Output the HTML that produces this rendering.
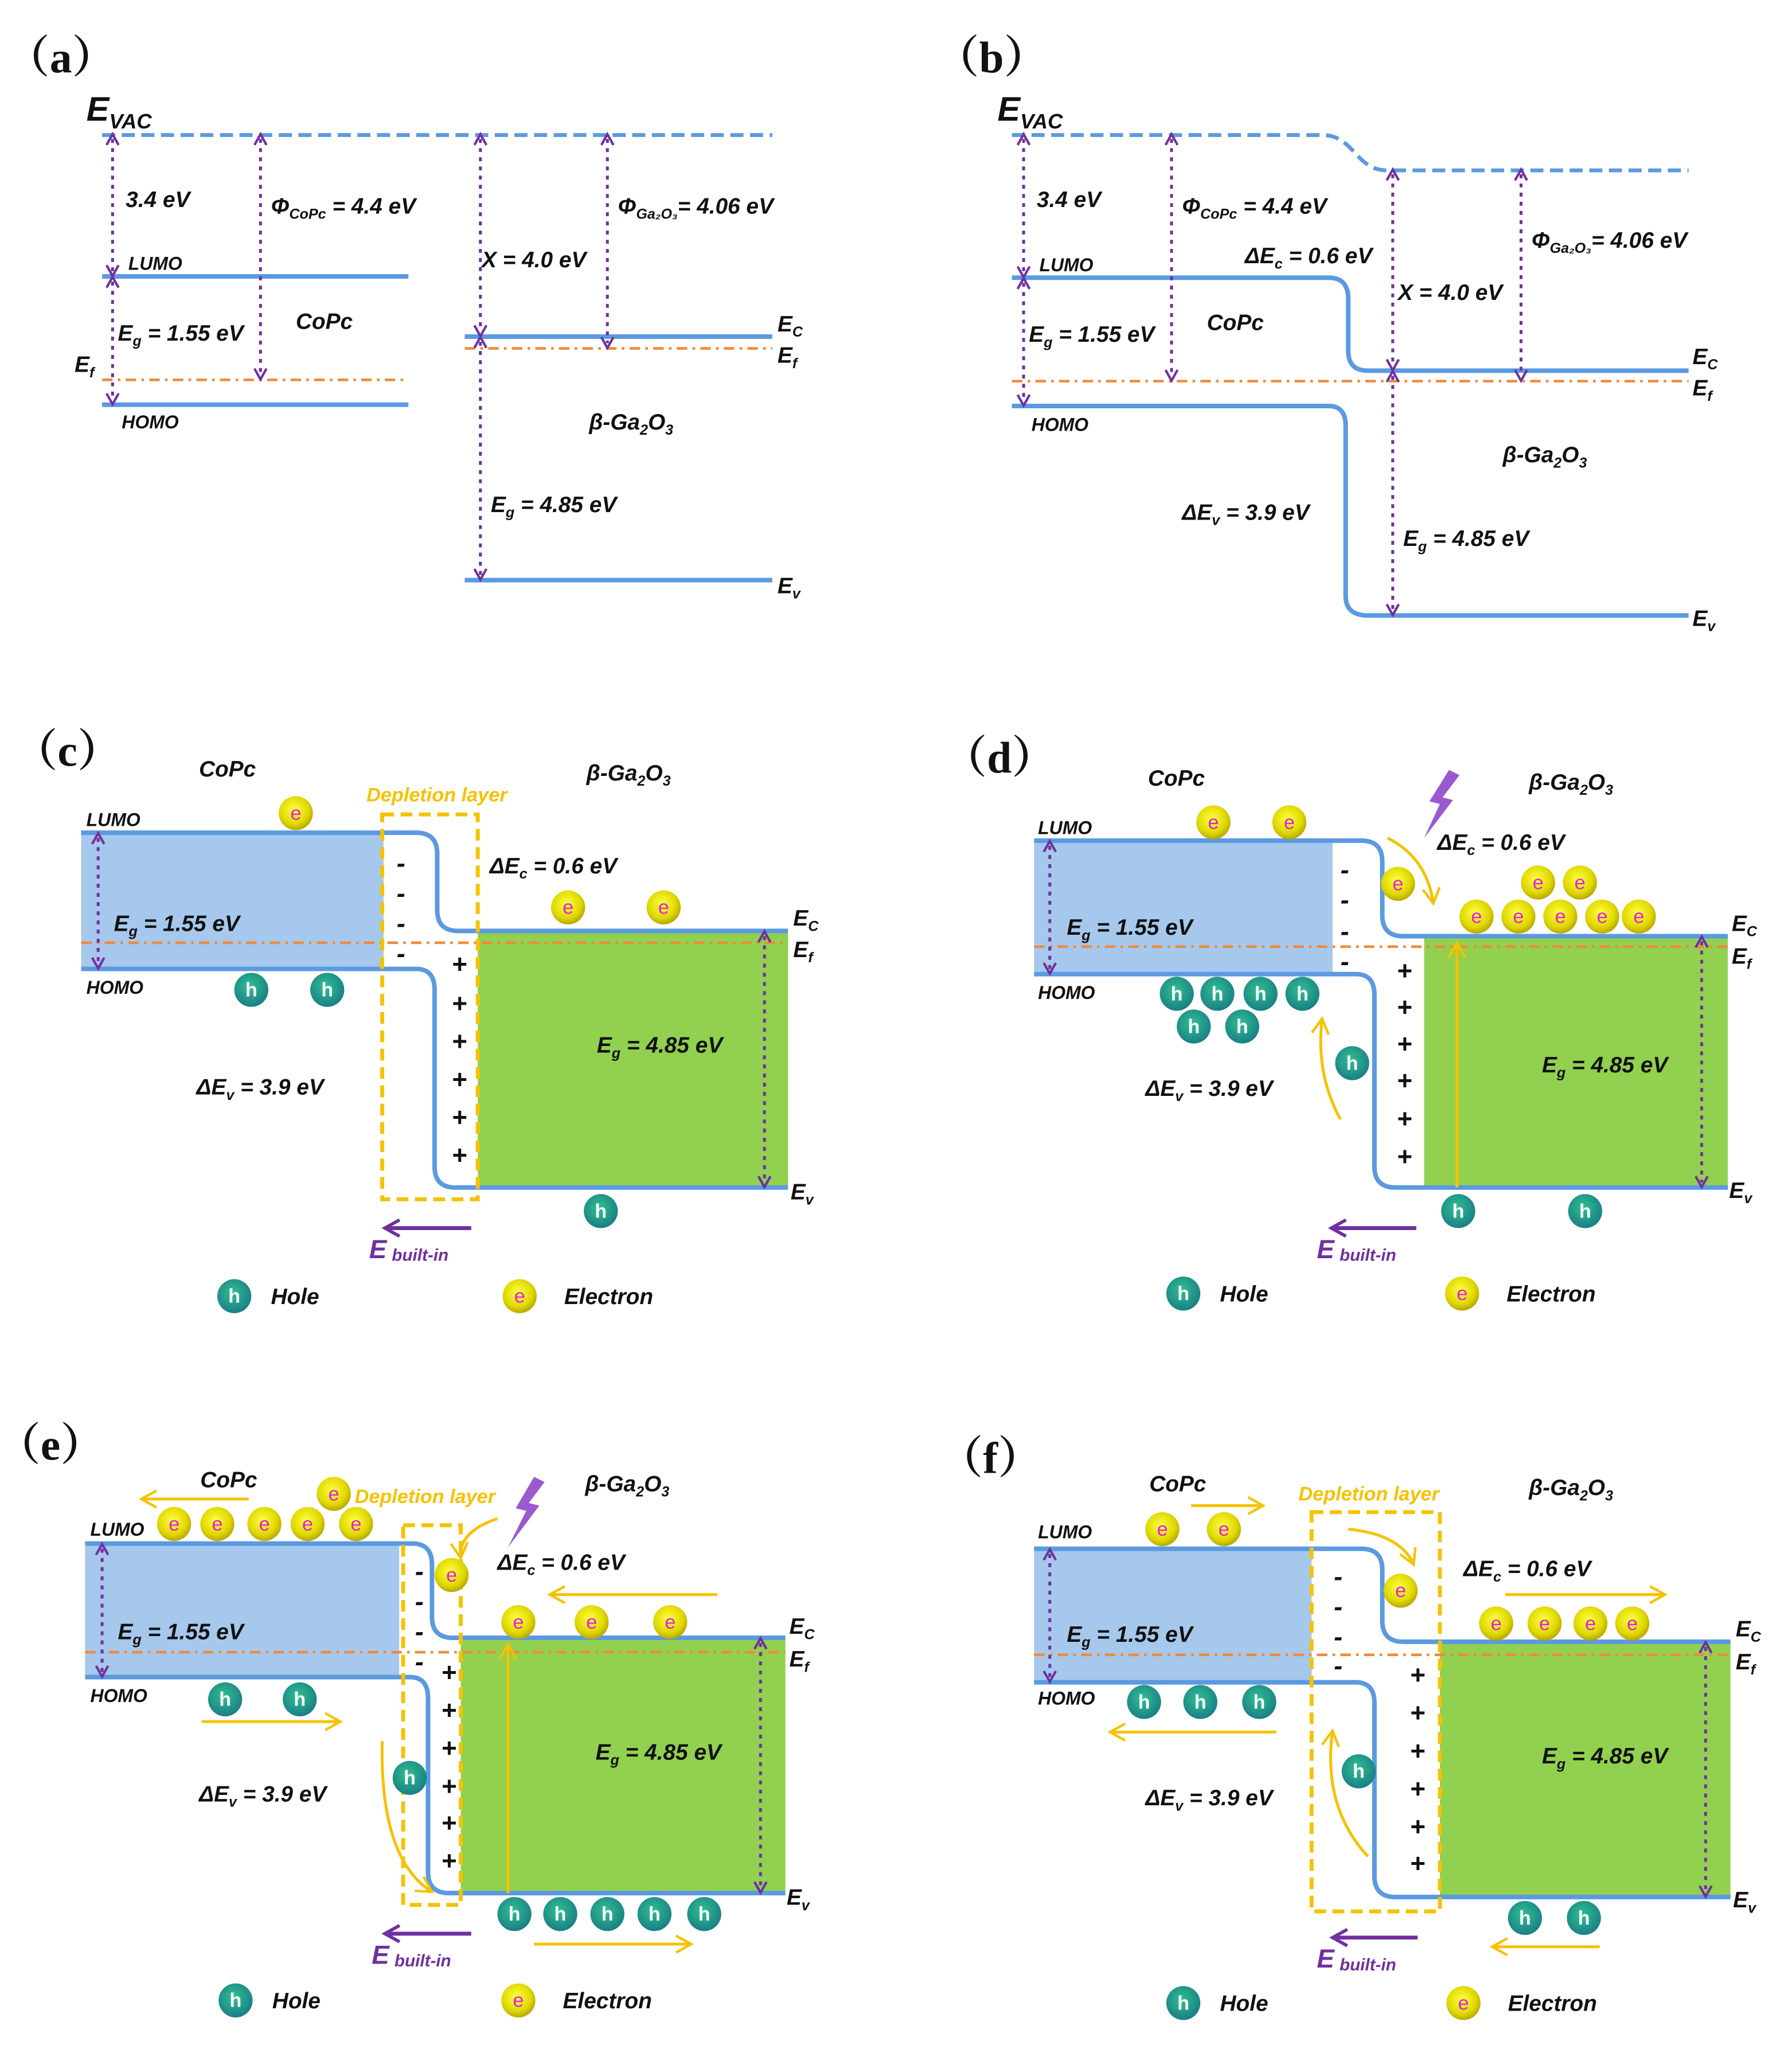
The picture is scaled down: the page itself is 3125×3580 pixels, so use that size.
<!DOCTYPE html>
<html><head><meta charset="utf-8"><style>
html,body{margin:0;padding:0;background:#fff}
svg{display:block}
.t{font-family:"Liberation Sans",sans-serif;font-style:italic;font-weight:bold;font-size:17px;fill:#111}
.s{font-size:11px}
.lb{font-family:"Liberation Serif","Noto Serif CJK SC",serif;font-weight:bold;font-size:34px;fill:#111}
.y{fill:#f5c200}
.p{fill:#7030a0}
.ep{font-family:"Liberation Sans",sans-serif;font-size:15px;fill:#e020e0;text-anchor:middle}
.hp{font-family:"Liberation Sans",sans-serif;font-size:15px;fill:#fff;text-anchor:middle;font-weight:bold}
.band{stroke:#5b9ae0;stroke-width:3.5;fill:none}
.dash{stroke:#5b9ae0;stroke-width:3;fill:none;stroke-dasharray:10 5}
.ef{stroke:#f08a3a;stroke-width:2;fill:none;stroke-dasharray:8 4 2 4}
.arr{stroke:#7030a0;stroke-width:2.2;fill:none;stroke-dasharray:3 4;marker-start:url(#ma);marker-end:url(#ma)}
.dep{stroke:#f5c200;stroke-width:3;fill:none;stroke-dasharray:9 5}
.ya{stroke:#f5c200;stroke-width:2.2;fill:none;marker-end:url(#my)}
.pa{stroke:#7030a0;stroke-width:3;fill:none;marker-end:url(#mp)}
.ec{fill:url(#ge)}
.hc{fill:url(#gh)}
</style></head><body>
<svg width="3125" height="3580" viewBox="0 0 1369 1568" xmlns="http://www.w3.org/2000/svg">
<defs>
<marker id="ma" viewBox="0 0 12 12" refX="6" refY="6" markerWidth="5" markerHeight="5" orient="auto-start-reverse"><path d="M1,1 L10,6 L1,11" fill="none" stroke="#7030a0" stroke-width="2"/></marker>
<marker id="my" viewBox="0 0 12 12" refX="10" refY="6" markerWidth="7" markerHeight="7" orient="auto"><path d="M1,1 L10,6 L1,11" fill="none" stroke="#f5c200" stroke-width="1.5"/></marker>
<marker id="mp" viewBox="0 0 12 12" refX="10" refY="6" markerWidth="5" markerHeight="5" orient="auto"><path d="M1,1 L10,6 L1,11" fill="none" stroke="#7030a0" stroke-width="2"/></marker>
<radialGradient id="ge" cx="0.45" cy="0.4" r="0.6"><stop offset="0" stop-color="#ffff40"/><stop offset="0.7" stop-color="#e0d800"/><stop offset="1" stop-color="#b8a800"/></radialGradient>
<radialGradient id="gh" cx="0.45" cy="0.4" r="0.6"><stop offset="0" stop-color="#30c090"/><stop offset="1" stop-color="#1a7f86"/></radialGradient>
</defs>

<!-- ===== (a) ===== -->
<text class="lb" x="4" y="55">（a）</text>
<text class="t" x="66" y="92" style="font-size:26px">E<tspan class="s" style="font-size:16px" dy="6">VAC</tspan></text>
<line class="dash" x1="78" y1="103" x2="590" y2="103"/>
<line class="band" x1="78" y1="211" x2="312" y2="211"/>
<line class="band" x1="78" y1="309" x2="312" y2="309"/>
<line class="ef" x1="78" y1="290" x2="310" y2="290"/>
<line class="band" x1="355" y1="257" x2="590" y2="257"/>
<line class="ef" x1="355" y1="266" x2="590" y2="266"/>
<line class="band" x1="355" y1="443" x2="590" y2="443"/>
<line class="arr" x1="86" y1="106" x2="86" y2="207"/>
<line class="arr" x1="86" y1="215" x2="86" y2="305"/>
<line class="arr" x1="199" y1="106" x2="199" y2="286"/>
<line class="arr" x1="367" y1="106" x2="367" y2="253"/>
<line class="arr" x1="464" y1="106" x2="464" y2="262"/>
<line class="arr" x1="367" y1="261" x2="367" y2="439"/>
<text class="t" x="96" y="158">3.4 eV</text>
<text class="t" x="207" y="163">Φ<tspan class="s" dy="4">CoPc</tspan><tspan dy="-4"> = 4.4 eV</tspan></text>
<text class="t" x="98" y="206" style="font-size:14px">LUMO</text>
<text class="t" x="90" y="260">E<tspan class="s" dy="4">g</tspan><tspan dy="-4"> = 1.55 eV</tspan></text>
<text class="t" x="226" y="251">CoPc</text>
<text class="t" x="57" y="284">E<tspan class="s" dy="4">f</tspan></text>
<text class="t" x="93" y="327" style="font-size:14px">HOMO</text>
<text class="t" x="368" y="204">Χ = 4.0 eV</text>
<text class="t" x="472" y="163">Φ<tspan class="s" dy="4">Ga₂O₃</tspan><tspan dy="-4">= 4.06 eV</tspan></text>
<text class="t" x="594" y="253">E<tspan class="s" dy="4">C</tspan></text>
<text class="t" x="594" y="277">E<tspan class="s" dy="4">f</tspan></text>
<text class="t" x="594" y="453">E<tspan class="s" dy="4">v</tspan></text>
<text class="t" x="450" y="328">β-Ga<tspan class="s" dy="4">2</tspan><tspan dy="-4">O</tspan><tspan class="s" dy="4">3</tspan></text>
<text class="t" x="375" y="391">E<tspan class="s" dy="4">g</tspan><tspan dy="-4"> = 4.85 eV</tspan></text>

<!-- ===== (b) ===== -->
<text class="lb" x="714" y="55">（b）</text>
<text class="t" x="762" y="92" style="font-size:26px">E<tspan class="s" style="font-size:16px" dy="6">VAC</tspan></text>
<path class="dash" d="M773,103 H1010 C1035,103 1035,130 1060,130 H1290"/>
<path class="band" d="M773,212 H1015 Q1030,212 1030,228 V268 Q1030,283 1045,283 H1290"/>
<path class="band" d="M773,310 H1015 Q1028,310 1028,325 V455 Q1028,470 1045,470 H1290"/>
<line class="ef" x1="773" y1="291" x2="1290" y2="291"/>
<line class="arr" x1="782" y1="106" x2="782" y2="208"/>
<line class="arr" x1="782" y1="216" x2="782" y2="306"/>
<line class="arr" x1="895" y1="106" x2="895" y2="287"/>
<line class="arr" x1="1064" y1="133" x2="1064" y2="279"/>
<line class="arr" x1="1162" y1="133" x2="1162" y2="287"/>
<line class="arr" x1="1064" y1="287" x2="1064" y2="466"/>
<text class="t" x="792" y="158">3.4 eV</text>
<text class="t" x="903" y="163">Φ<tspan class="s" dy="4">CoPc</tspan><tspan dy="-4"> = 4.4 eV</tspan></text>
<text class="t" x="794" y="207" style="font-size:14px">LUMO</text>
<text class="t" x="951" y="201">ΔE<tspan class="s" dy="4">c</tspan><tspan dy="-4"> = 0.6 eV</tspan></text>
<text class="t" x="786" y="261">E<tspan class="s" dy="4">g</tspan><tspan dy="-4"> = 1.55 eV</tspan></text>
<text class="t" x="922" y="252">CoPc</text>
<text class="t" x="788" y="329" style="font-size:14px">HOMO</text>
<text class="t" x="1068" y="229">Χ = 4.0 eV</text>
<text class="t" x="1170" y="189">Φ<tspan class="s" dy="4">Ga₂O₃</tspan><tspan dy="-4">= 4.06 eV</tspan></text>
<text class="t" x="1148" y="353">β-Ga<tspan class="s" dy="4">2</tspan><tspan dy="-4">O</tspan><tspan class="s" dy="4">3</tspan></text>
<text class="t" x="903" y="397">ΔE<tspan class="s" dy="4">v</tspan><tspan dy="-4"> = 3.9 eV</tspan></text>
<text class="t" x="1072" y="417">E<tspan class="s" dy="4">g</tspan><tspan dy="-4"> = 4.85 eV</tspan></text>
<text class="t" x="1293" y="278">E<tspan class="s" dy="4">C</tspan></text>
<text class="t" x="1293" y="302">E<tspan class="s" dy="4">f</tspan></text>
<text class="t" x="1293" y="478">E<tspan class="s" dy="4">v</tspan></text>

<!-- ===== (c) ===== -->
<text class="lb" x="10" y="585">（c）</text>
<rect x="62" y="636" width="231" height="104" fill="#a6c8ec"/>
<rect x="365" y="711" width="237" height="196" fill="#92d050"/>
<path class="band" d="M62,636 H318 Q334,636 334,652 V695 Q334,711 350,711 H602"/>
<path class="band" d="M62,740 H318 Q332,740 332,756 V891 Q332,907 348,907 H602"/>
<line class="ef" x1="62" y1="720" x2="602" y2="720"/>
<rect class="dep" x="292" y="622" width="73" height="294"/>
<g class="t" style="font-size:20px"><text x="303" y="666">-</text><text x="303" y="689">-</text><text x="303" y="712">-</text><text x="303" y="735">-</text>
<text x="345" y="743">+</text><text x="345" y="773">+</text><text x="345" y="802">+</text><text x="345" y="831">+</text><text x="345" y="860">+</text><text x="345" y="889">+</text></g>
<line class="arr" x1="75" y1="640" x2="75" y2="736"/>
<line class="arr" x1="584" y1="715" x2="584" y2="903"/>
<text class="t" x="87" y="711">E<tspan class="s" dy="4">g</tspan><tspan dy="-4"> = 1.55 eV</tspan></text>
<text class="t" x="456" y="804">E<tspan class="s" dy="4">g</tspan><tspan dy="-4"> = 4.85 eV</tspan></text>
<text class="t" x="374" y="667">ΔE<tspan class="s" dy="4">c</tspan><tspan dy="-4"> = 0.6 eV</tspan></text>
<text class="t" x="150" y="836">ΔE<tspan class="s" dy="4">v</tspan><tspan dy="-4"> = 3.9 eV</tspan></text>
<text class="t" x="66" y="631" style="font-size:14px">LUMO</text>
<text class="t" x="66" y="759" style="font-size:14px">HOMO</text>
<text class="t" x="152" y="593">CoPc</text>
<text class="t" x="448" y="596">β-Ga<tspan class="s" dy="4">2</tspan><tspan dy="-4">O</tspan><tspan class="s" dy="4">3</tspan></text>
<text class="t y" x="280" y="612" style="font-size:15px">Depletion layer</text>
<text class="t" x="606" y="707">E<tspan class="s" dy="4">C</tspan></text>
<text class="t" x="606" y="731">E<tspan class="s" dy="4">f</tspan></text>
<text class="t" x="604" y="916">E<tspan class="s" dy="4">v</tspan></text>
<g><circle class="ec" cx="226" cy="621" r="13"/><text class="ep" x="226" y="626">e</text>
<circle class="ec" cx="434" cy="693" r="13"/><text class="ep" x="434" y="698">e</text>
<circle class="ec" cx="507" cy="693" r="13"/><text class="ep" x="507" y="698">e</text>
<circle class="hc" cx="192" cy="756" r="13"/><text class="hp" x="192" y="761">h</text>
<circle class="hc" cx="250" cy="756" r="13"/><text class="hp" x="250" y="761">h</text>
<circle class="hc" cx="459" cy="925" r="13"/><text class="hp" x="459" y="930">h</text></g>
<line class="pa" x1="360" y1="938" x2="294" y2="938"/>
<text class="t p" x="282" y="961" style="font-size:20px">E<tspan class="s" style="font-size:13px" dx="4" dy="2">built-in</tspan></text>
<circle class="hc" cx="179" cy="990" r="13"/><text class="hp" x="179" y="995">h</text><text class="t" x="207" y="996">Hole</text>
<circle class="ec" cx="397" cy="990" r="13"/><text class="ep" x="397" y="995">e</text><text class="t" x="431" y="996">Electron</text>

<!-- ===== (d) ===== -->
<text class="lb" x="720" y="590">（d）</text>
<rect x="790" y="642" width="228" height="102" fill="#a6c8ec"/>
<rect x="1088" y="715" width="232" height="192" fill="#92d050"/>
<path class="band" d="M790,642 H1040 Q1056,642 1056,658 V699 Q1056,715 1072,715 H1320"/>
<path class="band" d="M790,744 H1036 Q1050,744 1050,760 V891 Q1050,907 1066,907 H1320"/>
<line class="ef" x1="790" y1="723" x2="1320" y2="723"/>
<g class="t" style="font-size:20px"><text x="1024" y="671">-</text><text x="1024" y="694">-</text><text x="1024" y="718">-</text><text x="1024" y="741">-</text>
<text x="1067" y="748">+</text><text x="1067" y="776">+</text><text x="1067" y="804">+</text><text x="1067" y="832">+</text><text x="1067" y="861">+</text><text x="1067" y="890">+</text></g>
<line class="arr" x1="802" y1="646" x2="802" y2="740"/>
<line class="arr" x1="1300" y1="719" x2="1300" y2="903"/>
<path d="M1107,588 L1092,612 L1100,614 L1088,640 L1110,611 L1102,609 L1115,592 Z" fill="#9b59d0"/>
<path class="ya" d="M1060,640 Q1090,655 1095,690"/>
<line class="ya" x1="1113" y1="907" x2="1113" y2="720"/>
<path class="ya" d="M1024,855 Q1005,820 1010,778"/>
<text class="t" x="815" y="714">E<tspan class="s" dy="4">g</tspan><tspan dy="-4"> = 1.55 eV</tspan></text>
<text class="t" x="1178" y="819">E<tspan class="s" dy="4">g</tspan><tspan dy="-4"> = 4.85 eV</tspan></text>
<text class="t" x="1098" y="649">ΔE<tspan class="s" dy="4">c</tspan><tspan dy="-4"> = 0.6 eV</tspan></text>
<text class="t" x="875" y="837">ΔE<tspan class="s" dy="4">v</tspan><tspan dy="-4"> = 3.9 eV</tspan></text>
<text class="t" x="793" y="637" style="font-size:14px">LUMO</text>
<text class="t" x="793" y="763" style="font-size:14px">HOMO</text>
<text class="t" x="877" y="600">CoPc</text>
<text class="t" x="1168" y="603">β-Ga<tspan class="s" dy="4">2</tspan><tspan dy="-4">O</tspan><tspan class="s" dy="4">3</tspan></text>
<text class="t" x="1323" y="711">E<tspan class="s" dy="4">C</tspan></text>
<text class="t" x="1323" y="736">E<tspan class="s" dy="4">f</tspan></text>
<text class="t" x="1321" y="915">E<tspan class="s" dy="4">v</tspan></text>
<g><circle class="ec" cx="927" cy="628" r="13"/><text class="ep" x="927" y="633">e</text>
<circle class="ec" cx="985" cy="628" r="13"/><text class="ep" x="985" y="633">e</text>
<circle class="ec" cx="1068" cy="675" r="13"/><text class="ep" x="1068" y="680">e</text>
<circle class="ec" cx="1175" cy="674" r="13"/><text class="ep" x="1175" y="679">e</text>
<circle class="ec" cx="1207" cy="674" r="13"/><text class="ep" x="1207" y="679">e</text>
<circle class="ec" cx="1128" cy="700" r="13"/><text class="ep" x="1128" y="705">e</text>
<circle class="ec" cx="1160" cy="700" r="13"/><text class="ep" x="1160" y="705">e</text>
<circle class="ec" cx="1192" cy="700" r="13"/><text class="ep" x="1192" y="705">e</text>
<circle class="ec" cx="1224" cy="700" r="13"/><text class="ep" x="1224" y="705">e</text>
<circle class="ec" cx="1252" cy="700" r="13"/><text class="ep" x="1252" y="705">e</text>
<circle class="hc" cx="899" cy="759" r="13"/><text class="hp" x="899" y="764">h</text>
<circle class="hc" cx="930" cy="759" r="13"/><text class="hp" x="930" y="764">h</text>
<circle class="hc" cx="963" cy="759" r="13"/><text class="hp" x="963" y="764">h</text>
<circle class="hc" cx="995" cy="759" r="13"/><text class="hp" x="995" y="764">h</text>
<circle class="hc" cx="912" cy="784" r="13"/><text class="hp" x="912" y="789">h</text>
<circle class="hc" cx="949" cy="784" r="13"/><text class="hp" x="949" y="789">h</text>
<circle class="hc" cx="1033" cy="812" r="13"/><text class="hp" x="1033" y="817">h</text>
<circle class="hc" cx="1114" cy="925" r="13"/><text class="hp" x="1114" y="930">h</text>
<circle class="hc" cx="1211" cy="925" r="13"/><text class="hp" x="1211" y="930">h</text></g>
<line class="pa" x1="1082" y1="938" x2="1017" y2="938"/>
<text class="t p" x="1006" y="961" style="font-size:20px">E<tspan class="s" style="font-size:13px" dx="4" dy="2">built-in</tspan></text>
<circle class="hc" cx="904" cy="988" r="13"/><text class="hp" x="904" y="993">h</text><text class="t" x="932" y="994">Hole</text>
<circle class="ec" cx="1117" cy="988" r="13"/><text class="ep" x="1117" y="993">e</text><text class="t" x="1151" y="994">Electron</text>

<!-- ===== (e) ===== -->
<text class="lb" x="-3" y="1115">（e）</text>
<rect x="65" y="1179" width="240" height="102" fill="#a6c8ec"/>
<rect x="352" y="1251" width="248" height="195" fill="#92d050"/>
<path class="band" d="M65,1179 H315 Q330,1179 330,1195 V1235 Q330,1251 346,1251 H600"/>
<path class="band" d="M65,1281 H313 Q327,1281 327,1297 V1430 Q327,1446 343,1446 H600"/>
<line class="ef" x1="65" y1="1262" x2="600" y2="1262"/>
<rect class="dep" x="308" y="1165" width="44" height="290"/>
<g class="t" style="font-size:20px"><text x="317" y="1207">-</text><text x="317" y="1230">-</text><text x="317" y="1253">-</text><text x="317" y="1276">-</text>
<text x="337" y="1284">+</text><text x="337" y="1313">+</text><text x="337" y="1342">+</text><text x="337" y="1371">+</text><text x="337" y="1399">+</text><text x="337" y="1428">+</text></g>
<line class="arr" x1="78" y1="1183" x2="78" y2="1277"/>
<line class="arr" x1="581" y1="1255" x2="581" y2="1442"/>
<path d="M408,1128 L394,1152 L402,1154 L388,1182 L412,1150 L404,1148 L416,1132 Z" fill="#9b59d0"/>
<line class="ya" x1="190" y1="1145" x2="108" y2="1145"/>
<line class="ya" x1="154" y1="1315" x2="260" y2="1315"/>
<line class="ya" x1="548" y1="1218" x2="420" y2="1218"/>
<line class="ya" x1="408" y1="1485" x2="528" y2="1485"/>
<line class="ya" x1="388" y1="1446" x2="388" y2="1256"/>
<path class="ya" d="M292,1330 Q290,1420 330,1445"/>
<path class="ya" d="M380,1160 Q350,1170 352,1190"/>
<text class="t" x="90" y="1252">E<tspan class="s" dy="4">g</tspan><tspan dy="-4"> = 1.55 eV</tspan></text>
<text class="t" x="455" y="1344">E<tspan class="s" dy="4">g</tspan><tspan dy="-4"> = 4.85 eV</tspan></text>
<text class="t" x="380" y="1199">ΔE<tspan class="s" dy="4">c</tspan><tspan dy="-4"> = 0.6 eV</tspan></text>
<text class="t" x="152" y="1376">ΔE<tspan class="s" dy="4">v</tspan><tspan dy="-4"> = 3.9 eV</tspan></text>
<text class="t" x="69" y="1173" style="font-size:14px">LUMO</text>
<text class="t" x="69" y="1300" style="font-size:14px">HOMO</text>
<text class="t" x="153" y="1136">CoPc</text>
<text class="t" x="447" y="1139">β-Ga<tspan class="s" dy="4">2</tspan><tspan dy="-4">O</tspan><tspan class="s" dy="4">3</tspan></text>
<text class="t y" x="271" y="1148" style="font-size:15px">Depletion layer</text>
<text class="t" x="603" y="1248">E<tspan class="s" dy="4">C</tspan></text>
<text class="t" x="603" y="1273">E<tspan class="s" dy="4">f</tspan></text>
<text class="t" x="601" y="1455">E<tspan class="s" dy="4">v</tspan></text>
<g><circle class="ec" cx="133" cy="1164" r="13"/><text class="ep" x="133" y="1169">e</text>
<circle class="ec" cx="166" cy="1164" r="13"/><text class="ep" x="166" y="1169">e</text>
<circle class="ec" cx="202" cy="1164" r="13"/><text class="ep" x="202" y="1169">e</text>
<circle class="ec" cx="235" cy="1164" r="13"/><text class="ep" x="235" y="1169">e</text>
<circle class="ec" cx="272" cy="1164" r="13"/><text class="ep" x="272" y="1169">e</text>
<circle class="ec" cx="255" cy="1141" r="13"/><text class="ep" x="255" y="1146">e</text>
<circle class="ec" cx="345" cy="1203" r="13"/><text class="ep" x="345" y="1208">e</text>
<circle class="ec" cx="396" cy="1239" r="13"/><text class="ep" x="396" y="1244">e</text>
<circle class="ec" cx="452" cy="1239" r="13"/><text class="ep" x="452" y="1244">e</text>
<circle class="ec" cx="512" cy="1239" r="13"/><text class="ep" x="512" y="1244">e</text>
<circle class="hc" cx="172" cy="1298" r="13"/><text class="hp" x="172" y="1303">h</text>
<circle class="hc" cx="229" cy="1298" r="13"/><text class="hp" x="229" y="1303">h</text>
<circle class="hc" cx="313" cy="1358" r="13"/><text class="hp" x="313" y="1363">h</text>
<circle class="hc" cx="393" cy="1462" r="13"/><text class="hp" x="393" y="1467">h</text>
<circle class="hc" cx="428" cy="1462" r="13"/><text class="hp" x="428" y="1467">h</text>
<circle class="hc" cx="464" cy="1462" r="13"/><text class="hp" x="464" y="1467">h</text>
<circle class="hc" cx="500" cy="1462" r="13"/><text class="hp" x="500" y="1467">h</text>
<circle class="hc" cx="538" cy="1462" r="13"/><text class="hp" x="538" y="1467">h</text></g>
<line class="pa" x1="360" y1="1477" x2="294" y2="1477"/>
<text class="t p" x="284" y="1500" style="font-size:20px">E<tspan class="s" style="font-size:13px" dx="4" dy="2">built-in</tspan></text>
<circle class="hc" cx="180" cy="1528" r="13"/><text class="hp" x="180" y="1533">h</text><text class="t" x="208" y="1534">Hole</text>
<circle class="ec" cx="396" cy="1528" r="13"/><text class="ep" x="396" y="1533">e</text><text class="t" x="430" y="1534">Electron</text>

<!-- ===== (f) ===== -->
<text class="lb" x="717" y="1125">（f）</text>
<rect x="790" y="1183" width="212" height="102" fill="#a6c8ec"/>
<rect x="1100" y="1254" width="222" height="195" fill="#92d050"/>
<path class="band" d="M790,1183 H1040 Q1056,1183 1056,1199 V1238 Q1056,1254 1072,1254 H1322"/>
<path class="band" d="M790,1285 H1036 Q1050,1285 1050,1301 V1433 Q1050,1449 1066,1449 H1322"/>
<line class="ef" x1="790" y1="1264" x2="1322" y2="1264"/>
<rect class="dep" x="1002" y="1155" width="98" height="305"/>
<g class="t" style="font-size:20px"><text x="1019" y="1211">-</text><text x="1019" y="1234">-</text><text x="1019" y="1257">-</text><text x="1019" y="1279">-</text>
<text x="1077" y="1286">+</text><text x="1077" y="1315">+</text><text x="1077" y="1344">+</text><text x="1077" y="1373">+</text><text x="1077" y="1402">+</text><text x="1077" y="1430">+</text></g>
<line class="arr" x1="802" y1="1187" x2="802" y2="1281"/>
<line class="arr" x1="1303" y1="1258" x2="1303" y2="1445"/>
<line class="ya" x1="910" y1="1150" x2="965" y2="1150"/>
<line class="ya" x1="975" y1="1323" x2="848" y2="1323"/>
<line class="ya" x1="1150" y1="1218" x2="1272" y2="1218"/>
<line class="ya" x1="1222" y1="1487" x2="1140" y2="1487"/>
<path class="ya" d="M1030,1168 Q1070,1172 1080,1195"/>
<path class="ya" d="M1045,1418 Q1010,1380 1018,1322"/>
<text class="t" x="815" y="1254">E<tspan class="s" dy="4">g</tspan><tspan dy="-4"> = 1.55 eV</tspan></text>
<text class="t" x="1178" y="1347">E<tspan class="s" dy="4">g</tspan><tspan dy="-4"> = 4.85 eV</tspan></text>
<text class="t" x="1118" y="1204">ΔE<tspan class="s" dy="4">c</tspan><tspan dy="-4"> = 0.6 eV</tspan></text>
<text class="t" x="875" y="1379">ΔE<tspan class="s" dy="4">v</tspan><tspan dy="-4"> = 3.9 eV</tspan></text>
<text class="t" x="793" y="1175" style="font-size:14px">LUMO</text>
<text class="t" x="793" y="1302" style="font-size:14px">HOMO</text>
<text class="t" x="878" y="1139">CoPc</text>
<text class="t" x="1168" y="1142">β-Ga<tspan class="s" dy="4">2</tspan><tspan dy="-4">O</tspan><tspan class="s" dy="4">3</tspan></text>
<text class="t y" x="992" y="1146" style="font-size:15px">Depletion layer</text>
<text class="t" x="1326" y="1250">E<tspan class="s" dy="4">C</tspan></text>
<text class="t" x="1326" y="1275">E<tspan class="s" dy="4">f</tspan></text>
<text class="t" x="1324" y="1457">E<tspan class="s" dy="4">v</tspan></text>
<g><circle class="ec" cx="888" cy="1168" r="13"/><text class="ep" x="888" y="1173">e</text>
<circle class="ec" cx="935" cy="1168" r="13"/><text class="ep" x="935" y="1173">e</text>
<circle class="ec" cx="1070" cy="1215" r="13"/><text class="ep" x="1070" y="1220">e</text>
<circle class="ec" cx="1143" cy="1240" r="13"/><text class="ep" x="1143" y="1245">e</text>
<circle class="ec" cx="1180" cy="1240" r="13"/><text class="ep" x="1180" y="1245">e</text>
<circle class="ec" cx="1215" cy="1240" r="13"/><text class="ep" x="1215" y="1245">e</text>
<circle class="ec" cx="1247" cy="1240" r="13"/><text class="ep" x="1247" y="1245">e</text>
<circle class="hc" cx="874" cy="1300" r="13"/><text class="hp" x="874" y="1305">h</text>
<circle class="hc" cx="917" cy="1300" r="13"/><text class="hp" x="917" y="1305">h</text>
<circle class="hc" cx="962" cy="1300" r="13"/><text class="hp" x="962" y="1305">h</text>
<circle class="hc" cx="1038" cy="1353" r="13"/><text class="hp" x="1038" y="1358">h</text>
<circle class="hc" cx="1165" cy="1465" r="13"/><text class="hp" x="1165" y="1470">h</text>
<circle class="hc" cx="1210" cy="1465" r="13"/><text class="hp" x="1210" y="1470">h</text></g>
<line class="pa" x1="1083" y1="1480" x2="1018" y2="1480"/>
<text class="t p" x="1006" y="1503" style="font-size:20px">E<tspan class="s" style="font-size:13px" dx="4" dy="2">built-in</tspan></text>
<circle class="hc" cx="904" cy="1530" r="13"/><text class="hp" x="904" y="1535">h</text><text class="t" x="932" y="1536">Hole</text>
<circle class="ec" cx="1118" cy="1530" r="13"/><text class="ep" x="1118" y="1535">e</text><text class="t" x="1152" y="1536">Electron</text>
</svg>
</body></html>
